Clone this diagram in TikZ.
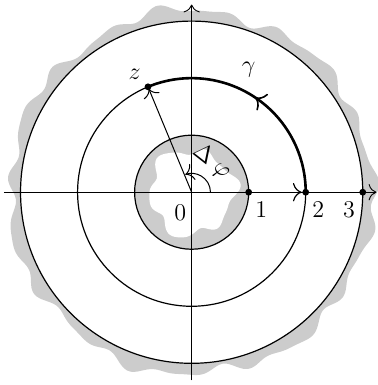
\documentclass[tikz,border=0pt]{standalone}
\usetikzlibrary{decorations.markings,arrows.meta}
\begin{document}
\begin{tikzpicture}[x=1cm,y=1cm,
  ringfill/.style={fill=black!20},
  circ/.style={line width=0.6pt},
  tip/.style={-{To[scale=1.5]}},
  axis/.style={line width=0.45pt,tip},
  dot/.style={circle,fill=black,inner sep=0pt,minimum size=3.4pt},
  lbl/.style={inner sep=1pt,font=\fontsize{13}{15}\selectfont}]
\useasboundingbox (-3.36,-3.38) rectangle (3.25,3.37);
% gray outer wavy region
\fill[ringfill] plot[domain=0:360,samples=240,smooth cycle]
  ({(3.19+0.06*sin(19*\x)+0.05*sin(7*\x+120)+0.03*sin(29*\x+40))*cos(\x)},
   {(3.19+0.06*sin(19*\x)+0.05*sin(7*\x+120)+0.03*sin(29*\x+40))*sin(\x)});
\fill[white] (0,0) circle[radius=3];
\fill[ringfill] (0,0) circle[radius=1];
\fill[white] plot[domain=0:360,samples=160,smooth cycle]
  ({(0.74+0.07*sin(6*\x+30)+0.04*sin(3*\x+60)+0.02*sin(11*\x))*cos(\x)},
   {(0.74+0.07*sin(6*\x+30)+0.04*sin(3*\x+60)+0.02*sin(11*\x))*sin(\x)});
% coordinates
\coordinate (O) at (0,0);
\coordinate (P1) at (1,0);
\coordinate (P2) at (2,0);
\coordinate (P3) at (3,0);
\coordinate (Z) at (112.5:2);
\coordinate (XL) at (-3.29,0);
\coordinate (XR) at (3.24,0);
\coordinate (YB) at (0,-3.3);
\coordinate (YT) at (0,3.29);
% circles
\draw[circ] (O) circle[radius=1];
\draw[circ] (O) circle[radius=2];
\draw[circ] (O) circle[radius=3];
% axes
\draw[axis] (XL) -- (XR);
\draw[axis] (YB) -- (YT);
% vectors
\draw[line width=0.6pt,tip,shorten >=2pt] (O) -- (P2);
\draw[line width=0.5pt,tip,shorten >=1pt] (O) -- (Z);
% angle
\draw[line width=0.5pt,tip] (0.33,0) arc[start angle=0,end angle=110,radius=0.33];
% gamma arc
\draw[line width=1.3pt,postaction=decorate,
  decoration={markings,mark=at position 0.5 with {\arrow[line width=0.8pt]{To[scale=1.4]}}}]
  (P2) arc[start angle=0,end angle=112.5,radius=2];
% dots
\node[dot] (d1) at (P1) {};
\node[dot] (d2) at (P2) {};
\node[dot] (d3) at (P3) {};
\node[dot] (dz) at (Z) {};
% labels
\node[lbl] (l0) at (-0.2,-0.36) {$0$};
\node[lbl] (l1) at (1.22,-0.3) {$1$};
\node[lbl] (l2) at (2.22,-0.3) {$2$};
\node[lbl] (l3) at (2.76,-0.3) {$3$};
\node[lbl] (lz) at (-1.0,2.06) {$z$};
\node[lbl] (lg) at (1.0,2.14) {$\gamma$};
\node[lbl,rotate=-38] (ld) at (0.35,0.53) {$\Delta\;\varphi$};
\end{tikzpicture}
\end{document}
